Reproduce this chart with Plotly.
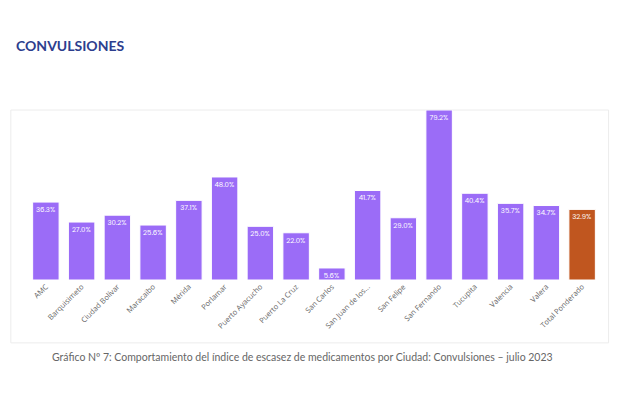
import plotly.graph_objects as go

ciudades = ["AMC", "Barquisimeto", "Ciudad Bolívar", "Maracaibo", "Mérida", "Porlamar",
            "Puerto Ayacucho", "Puerto La Cruz", "San Carlos", "San Juan de los...",
            "San Felipe", "San Fernando", "Tucupita", "Valencia", "Valera", "Total Ponderado"]
valores = [36.3, 27.0, 30.2, 25.6, 37.1, 48.0, 25.0, 22.0, 5.6, 41.7, 29.0, 79.2, 40.4, 35.7, 34.7, 32.9]
colores = ["#9b6cf7"] * 15 + ["#c0561f"]

fig = go.Figure(go.Bar(
    x=ciudades, y=valores,
    marker=dict(color=colores, line=dict(color="white", width=1)),
    text=[f"{v:.1f}%" for v in valores],
    textposition="inside", insidetextanchor="end", textangle=0,
    textfont=dict(color="white", size=7, family="Poppins, Lato, sans-serif"),
))

# card border
fig.add_shape(type="rect", xref="paper", yref="paper", x0=-0.03, x1=1.015, y0=-0.37, y1=1.0,
              line=dict(color="#ececec", width=1), layer="below")

fig.update_layout(
    width=640, height=420,
    margin=dict(l=20, r=48, t=102, b=148),
    paper_bgcolor="white", plot_bgcolor="white",
    bargap=0.26, showlegend=False,
    uniformtext=dict(minsize=6, mode="show"),
    xaxis=dict(tickangle=-45, tickfont=dict(size=7.5, color="#666"), showgrid=False,
               showline=False, automargin=False),
    yaxis=dict(visible=False, range=[0, 79.2], automargin=False),
    annotations=[
        dict(text="<b>CONVULSIONES</b>", xref="paper", yref="paper", x=-0.025, y=1.44,
             xanchor="left", showarrow=False,
             font=dict(size=14, color="#2d3e8e", family="Lato, sans-serif")),
        dict(text="Gráfico Nº 7: Comportamiento del índice de escasez de medicamentos por Ciudad: Convulsiones – julio 2023",
             xref="paper", yref="paper", x=0.48, y=-0.5, showarrow=False,
             font=dict(size=10.5, color="#666", family="Lato, sans-serif")),
    ],
)
fig.write_html("out.html")
